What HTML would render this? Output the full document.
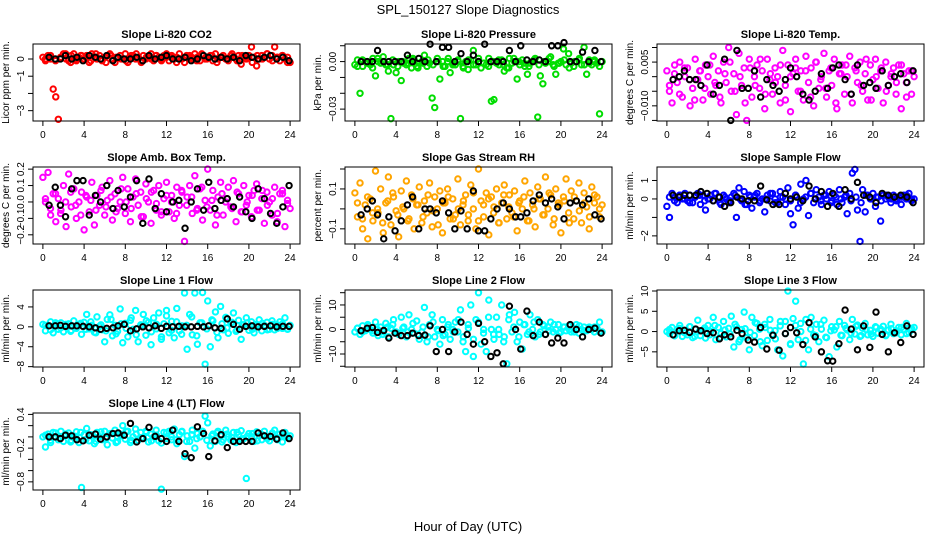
<!DOCTYPE html>
<html><head><meta charset="utf-8"><style>
html,body{margin:0;padding:0;background:#fff;}
svg{display:block;font-family:"Liberation Sans",sans-serif;}
</style></head><body>
<svg id="chart" width="936" height="540" viewBox="0 0 936 540" xmlns="http://www.w3.org/2000/svg">
<rect width="936" height="540" fill="#fff"/>
<text x="468" y="14" text-anchor="middle" font-size="13">SPL_150127  Slope Diagnostics</text>
<text x="468" y="531" text-anchor="middle" font-size="13">Hour of Day (UTC)</text>
</svg>
<script>
const xTicks = [0,4,8,12,16,20,24];
const blackHours = [0.6,1.2,1.7,2.2,2.8,3.3,3.9,4.5,5.1,5.6,6.2,6.8,7.3,7.9,8.5,9.1,9.7,10.3,10.9,11.5,12.0,12.6,13.2,13.8,14.4,15.0,15.6,16.1,16.7,17.3,17.9,18.5,19.1,19.7,20.3,20.9,21.5,22.1,22.7,23.3,23.9];

const co2Vals = [0.1,-0.1,0.2,0.0,-1.75,-2.2,-3.5,0.1,0.3,0.0,-0.1,0.2,0.3,-0.1,0.1,0.2,0.0,0.2,-0.2,0.3,0.1,0.0,0.2,-0.1,0.1,0.2,0.3,0.0,-0.2,0.1,0.2,0.0,0.3,-0.2,0.1,0.2,0.0,0.1,-0.1,0.2,0.0,0.1,0.3,-0.1,0.2,0.1,0.0,0.2,0.1,-0.1,0.2,0.0,0.1,0.3,0.0,-0.2,0.1,0.2,0.0,0.3,0.1,-0.1,0.2,0.0,0.1,0.2,-0.1,0.3,0.0,0.1,0.2,0.0,-0.1,0.2,0.1,0.0,0.2,-0.3,0.1,0.0,0.2,0.7,0.1,-0.4,0.0,0.2,0.1,0.3,0.0,0.2,0.7,0.1,-0.1,0.2,0.0,0.1,-0.2];
const co2Band = [0.0,0.2,-0.1,0.1,0.3,-0.2,0.0,0.2,0.1,-0.1,0.3,0.0,-0.2,0.2,0.1,0.0,-0.1,0.2,0.3,-0.2,0.1,0.0,0.2,-0.1,0.3,0.1,-0.2,0.0,0.2,0.1,-0.1,0.3,0.0,0.2,-0.2,0.1,0.0,0.3,-0.1,0.2,0.1,-0.2,0.2,0.0,0.3,-0.1,0.1,0.2,-0.2];
const co2Black = [0.1,0.0,0.0,0.2,0.0,0.1,-0.1,0.2,0.1,0.0,0.2,-0.1,0.1,0.0,0.0,0.1,-0.1,0.2,0.0,0.1,0.2,0.0,0.0,0.1,-0.1,0.0,0.2,0.1,0.0,0.1,0.0,0.1,-0.1,0.2,0.1,0.0,0.1,0.2,0.0,0.1,-0.1];
const presVals = [-0.002,0.001,-0.02,-0.003,0.0,-0.001,-0.002,0.002,-0.009,0.0,-0.001,0.003,-0.002,-0.006,-0.036,-0.002,-0.007,0.0,-0.012,-0.001,-0.002,0.002,-0.004,0.001,-0.003,-0.001,0.0,0.004,-0.003,-0.001,-0.023,-0.029,0.002,-0.011,0.0,-0.003,0.0,-0.007,-0.002,-0.002,0.001,-0.036,-0.003,0.0,-0.005,0.001,0.007,-0.002,0.0,-0.004,-0.001,-0.002,0.002,-0.025,-0.024,-0.001,-0.002,0.001,-0.006,-0.004,0.002,-0.001,0.0,-0.011,-0.002,0.001,-0.003,-0.008,-0.001,0.0,0.002,-0.035,-0.009,-0.014,-0.001,0.0,0.003,-0.002,-0.008,-0.001,0.0,0.008,-0.002,0.005,-0.001,-0.003,0.0,0.001,-0.002,0.009,-0.008,0.001,-0.002,0.0,-0.001,-0.033,0.0];
const presBand = [-0.003,0.001,-0.001,-0.004,0.002,0.0,-0.002,0.001,-0.003,0.0,-0.001,0.002,-0.004,-0.001,0.001,-0.002,0.0,-0.003,0.002,-0.001,0.0,-0.004,0.001,-0.002,0.002,-0.001,-0.003,0.0,0.001,-0.002,-0.004,0.002,0.0,-0.001,-0.003,0.001,-0.002,0.0,0.002,-0.003,-0.001,0.001,-0.004,0.0,0.002,-0.002,-0.001,0.001,-0.003];
const presBlack = [0.0,0.0,0.0,0.007,0.0,0.0,0.0,0.0,0.004,0.0,0.002,0.0,0.011,0.0,0.009,0.009,0.0,0.005,0.0,0.004,0.0,0.011,0.0,0.0,0.0,0.007,0.0,0.01,0.001,0.0,0.001,0.0,0.01,0.01,0.012,0.0,0.0,0.006,0.0,0.007,0.0];
const tempVals = [0.002,-0.005,-0.009,0.004,-0.002,0.005,-0.007,0.0,0.003,-0.01,-0.004,0.006,-0.001,0.002,-0.008,0.004,0.0,-0.006,0.007,-0.003,0.002,-0.009,0.005,-0.002,0.01,-0.005,0.001,-0.013,0.008,-0.003,0.003,-0.015,0.006,-0.007,0.0,0.004,-0.004,0.002,-0.011,0.006,-0.001,-0.006,0.003,0.0,-0.009,0.009,-0.003,0.004,-0.012,0.001,0.006,-0.005,0.002,-0.008,0.007,-0.002,0.003,-0.01,0.005,-0.004,0.0,0.008,-0.007,0.002,-0.003,0.006,-0.011,0.001,0.004,-0.006,0.0,0.007,-0.009,0.003,-0.002,0.005,-0.005,0.001,-0.008,0.004,-0.001,0.006,-0.004,0.002,-0.009,0.005,-0.003,0.0,0.003,-0.006,0.004,-0.011,0.001,-0.002,0.002,-0.006,0.0];
const tempBand = [-0.003,0.001,-0.006,0.003,-0.001,-0.008,0.002,-0.004,0.004,-0.002,-0.007,0.001,0.005,-0.005,0.0,-0.009,0.003,-0.003,0.006,-0.006,0.001,-0.002,0.004,-0.008,0.0,0.003,-0.005,0.002,-0.007,0.005,-0.001,-0.004,0.003,-0.009,0.001,0.004,-0.006,0.002,-0.003,0.006,-0.008,0.0,0.003,-0.005,0.001,-0.002,0.004,-0.007,0.002];
const tempBlack = [-0.001,0.0,0.002,-0.001,-0.001,-0.003,0.004,-0.006,-0.003,0.006,-0.015,0.009,-0.004,-0.004,0.002,-0.007,-0.001,-0.003,-0.005,-0.001,0.003,0.0,-0.006,-0.008,-0.005,0.001,-0.004,0.003,0.004,-0.001,-0.006,0.004,-0.003,-0.002,-0.004,0.002,-0.003,0.0,0.001,-0.002,0.002];
const ambVals = [0.15,0.0,0.18,-0.08,0.05,-0.12,0.02,-0.05,0.1,-0.15,0.17,-0.03,0.08,-0.1,0.0,0.06,-0.17,0.03,-0.06,0.12,-0.14,0.04,-0.02,0.09,-0.08,0.01,0.13,-0.11,0.05,-0.04,0.0,0.15,-0.07,0.08,-0.12,0.03,0.14,-0.02,0.06,-0.09,0.11,0.0,-0.13,0.07,-0.05,0.1,-0.08,0.02,0.12,-0.06,0.04,-0.1,0.09,-0.02,0.06,-0.24,0.03,0.1,-0.07,0.16,-0.04,0.08,-0.11,0.01,0.2,-0.05,0.07,-0.14,0.03,0.12,-0.08,0.0,0.09,-0.03,0.13,-0.12,0.05,-0.06,0.1,-0.02,0.04,-0.09,0.07,0.11,-0.05,0.02,-0.13,0.06,0.0,-0.08,0.09,-0.12,0.05,0.07,-0.15,0.01,-0.04];
const ambBand = [0.02,-0.04,0.05,-0.07,0.0,0.06,-0.02,-0.08,0.04,0.01,-0.05,0.07,-0.03,0.03,-0.06,0.08,0.0,-0.04,0.05,-0.09,0.02,0.06,-0.01,-0.06,0.04,0.0,-0.07,0.07,-0.02,0.03,-0.05,0.09,-0.03,0.01,-0.08,0.05,0.02,-0.04,0.06,-0.06,0.0,0.04,-0.05,0.07,-0.02,0.02,-0.07,0.05,-0.01];
const ambBlack = [-0.02,0.09,-0.02,-0.09,0.08,0.13,0.13,-0.08,0.04,0.0,0.1,-0.04,0.07,-0.03,0.03,0.13,-0.13,0.14,-0.04,0.05,-0.06,0.0,0.01,-0.16,0.0,0.08,-0.05,0.12,-0.04,0.01,0.02,-0.03,0.03,-0.06,-0.1,0.08,0.02,-0.07,-0.13,-0.03,0.1];
const rhVals = [0.08,-0.04,0.13,-0.1,0.02,-0.15,0.05,-0.06,0.19,-0.02,0.1,-0.12,0.03,0.16,-0.08,0.06,-0.01,-0.14,0.09,0.0,0.14,-0.05,0.07,-0.1,0.02,0.11,-0.07,0.04,-0.02,0.13,-0.09,0.06,0.0,0.09,-0.12,0.03,0.1,-0.05,0.05,-0.03,0.15,-0.08,0.02,0.07,-0.06,0.12,0.0,-0.1,0.2,0.04,-0.04,0.08,-0.13,0.06,0.01,0.1,-0.07,0.03,0.12,-0.05,0.07,-0.02,0.09,-0.11,0.04,0.0,0.14,-0.06,0.08,0.02,-0.09,0.11,0.05,-0.03,0.16,0.0,0.07,-0.08,0.1,0.03,-0.12,0.06,0.15,-0.02,0.09,-0.05,0.04,0.13,-0.07,0.08,0.01,-0.1,0.11,0.03,0.06,-0.04,0.02];
const rhBand = [0.03,-0.05,0.06,-0.02,0.0,-0.07,0.04,0.08,-0.03,0.01,-0.06,0.05,0.02,-0.04,0.07,-0.01,-0.08,0.03,0.06,-0.05,0.0,0.04,-0.03,0.08,-0.06,0.02,0.05,-0.02,-0.07,0.07,0.01,-0.04,0.03,0.06,-0.06,0.0,0.05,-0.03,0.08,-0.05,0.02,0.04,-0.07,0.06,-0.01,0.03,-0.04,0.07,0.0];
const rhBlack = [-0.03,0.0,0.04,-0.03,-0.15,-0.04,-0.11,-0.06,0.02,0.06,-0.1,0.0,0.0,-0.02,0.04,-0.02,-0.1,-0.01,-0.1,0.09,-0.11,-0.11,-0.05,0.0,0.03,0.0,-0.04,-0.04,-0.02,0.04,0.07,0.03,0.05,0.01,-0.05,0.03,0.04,0.02,0.05,-0.03,-0.05];
const sfVals = [-0.4,-1.0,0.3,0.1,-0.2,0.2,0.0,0.3,-0.1,0.2,-0.2,0.1,0.3,-0.3,0.2,-0.6,0.0,0.2,-0.1,0.3,0.1,-0.3,0.2,0.0,-0.2,0.1,0.3,-1.0,0.6,-0.1,0.4,-0.3,0.2,-0.5,0.1,0.3,-0.2,0.0,-0.7,0.2,-0.1,0.3,0.0,-0.2,0.4,0.1,-0.3,0.6,-0.8,-1.4,0.2,-0.5,0.8,0.0,1.0,-0.9,0.3,-0.2,0.5,0.1,-0.3,0.2,0.0,0.4,-0.1,0.2,-0.3,0.5,-0.2,0.1,-0.8,0.3,1.4,1.6,-0.6,-2.3,0.5,-0.7,0.2,0.0,0.3,-0.4,0.1,-1.2,0.2,0.0,0.1,-0.2,0.2,0.0,0.1,-0.3,0.2,0.0,0.3,-0.1,0.0];
const sfBand = [0.1,-0.1,0.2,0.0,-0.2,0.1,0.2,-0.1,0.0,0.3,-0.2,0.1,-0.1,0.2,0.0,-0.3,0.1,0.2,-0.1,0.0,0.3,-0.2,0.1,0.0,-0.1,0.2,-0.2,0.1,0.3,0.0,-0.1,0.2,-0.2,0.1,0.0,0.2,-0.1,0.1,-0.2,0.2,0.0,0.1,-0.1,0.2,0.0,-0.1,0.1,0.2,0.0];
const sfBlack = [0.2,0.1,0.2,0.2,0.2,0.4,0.3,-0.1,0.1,-0.4,-0.2,0.1,0.0,-0.1,-0.1,0.7,-0.05,-0.3,-0.3,0.3,0.0,0.1,-0.1,0.7,0.0,0.4,-0.4,0.3,-0.4,0.5,0.0,0.9,0.2,0.1,-0.2,0.3,0.2,0.1,0.2,0.1,-0.2];
const l1Vals = [0.5,-0.8,0.3,1.0,-1.2,0.4,-0.5,0.8,-1.0,0.2,0.6,-0.7,1.2,-0.3,0.5,-1.5,0.9,2.5,-0.4,0.3,-1.1,2.0,0.1,-0.6,-3.0,1.5,2.4,-1.8,0.3,-0.9,3.6,-3.2,0.7,-2.0,1.3,-0.5,3.3,-3.0,0.4,2.5,-1.7,0.9,-3.6,1.8,-0.4,2.8,-2.5,0.6,3.3,-1.2,1.1,-2.2,3.7,-0.8,0.2,6.8,-4.5,2.5,-1.6,6.8,-3.5,0.8,6.9,-7.5,5.2,-4.0,1.2,3.0,-2.2,4.1,-0.6,1.9,-1.3,0.7,2.8,-0.9,1.3,-2.5,0.4,1.8,-0.7,1.0,-1.2,0.5,1.4,-0.8,0.3,0.9,-0.5,1.2,-0.6,0.4,1.0,-0.3,1.8,-0.5,0.3];
const l1Band = [0.3,-0.6,0.8,-0.2,0.5,-0.9,0.1,0.7,-0.5,1.0,-1.2,0.4,-0.8,1.5,-1.4,0.6,-0.3,1.8,-1.6,0.2,1.2,-1.0,0.5,-2.0,2.2,-0.7,1.0,-1.5,0.3,2.0,-1.8,0.8,-0.4,1.4,-1.1,0.6,-0.2,0.9,-0.7,0.4,0.8,-0.5,0.2,0.7,-0.6,0.5,-0.3,0.6,-0.4];
const l1Black = [0.2,0.2,0.3,0.1,0.2,0.2,0.1,0.0,-0.2,-0.5,-0.3,-0.2,0.2,0.5,-0.8,-0.4,0.0,-0.2,0.2,-0.3,0.1,0.0,0.1,0.0,0.0,0.1,0.0,0.2,-0.2,-0.3,1.6,0.5,-0.5,0.1,0.2,0.0,0.1,0.2,0.0,0.1,0.1];
const l2Vals = [-1,0.5,-2,1.5,-0.5,2,0,-1.5,3,-2.5,1,-1,2.5,-3,0.5,4,-1,-2,5,1,-3,6,0,-1.5,3.5,-4,-1,9,-5,2,6,-3,0,-6,4,-2,1,-4,0,3,-1,8,-5,-9,2,10,-11,4,15,-6,0,-9,12,0,-4,5,-2,10,-3,-14,6,-1,7,-5,3,-8,2,-2,6,0,-3,4,-1,2,-2,1,3,-1,0,2,-1,1,-0.5,1.5,-1,0.5,2,-1.5,0,1,-0.5,1,0,-1,0.5,3,-1];
const l2Band = [0.5,-1,1.5,-0.5,0,-2,1,2,-1.5,0.5,-1,2.5,-2,1,-3,3,-0.5,-2.5,2,-1,4,-3,0.5,-4,3,-1.5,5,-2,0,-5,4,1,-3,2,-1,3,-2,1.5,-0.5,2,-1.5,1,0,-1,1.5,-0.5,0.5,1,-1];
const l2Black = [-0.5,0.5,0.8,-1.2,-0.4,-3.5,-1.5,-2.5,-2.5,-1.5,-2.5,-2.3,1.5,-9,0,-9,-1,3,-2,-6,2.5,-5,-11,-9.5,-14,9.5,0,-8,7.5,-2.5,3,-2,-5.5,-3.5,-5.5,2,0,-3,0,0.5,-1.5];
const l3Vals = [0,-0.5,1,-1,0.5,1.5,-1.2,0.3,-0.8,1.2,-1.5,0.6,2.8,-1,0.4,-1.6,1.5,0,3.5,-2,1,-0.5,2.5,-1.3,0.8,3.8,-3.8,1.2,-2.5,0.5,4.8,-1.5,-4.5,3.5,-1,2,0.6,-3.5,1.8,-2.2,3,-0.7,0.2,-4.5,1.4,-6,2.5,10,-3.2,3.2,7.5,-2,0,-8,3,-4.5,3.5,-0.8,1.8,-2.5,0.6,2.8,-1.5,-6.2,1.2,0.4,-3.8,2.5,-1,1.5,0.4,-2,3,-0.6,1.6,-1.2,0.8,2,-0.8,0.3,-1.2,1.2,-0.4,0.6,1.3,-1,0.4,1.8,-0.5,0.2,1,-0.8,0.5,2,-0.3,0.8,1];
const l3Band = [0.5,-1,0.8,-0.3,1.2,-1.2,0.2,0.9,-0.8,1.5,-1.5,0.4,-0.6,1.8,-2,0.7,-0.2,2.2,-2.5,1,0.3,-1.8,2.5,-0.5,-3,1.5,2,-2.2,0.6,-1,1.8,-1.4,0.2,1.2,-0.9,0.8,-0.4,1.3,-1,0.5,-0.6,1,0.2,-0.8,0.7,-0.3,1,-0.5,0.4];
const l3Black = [-0.8,0.2,0.3,-0.2,0.6,0.2,-0.5,-0.3,-1.8,-0.8,-1.3,0.3,-0.5,-2.1,-2.6,1,-4.3,-0.9,-4.6,-0.5,1,-0.3,-3.2,2.2,-1.3,-5,-7.2,-7.3,-3,5.3,0.6,-4.5,1.4,-3.9,4.8,-0.7,-5,-0.3,-2.7,1.4,-0.7];
const l4Vals = [0.0,-0.18,0.05,-0.1,0.08,0.0,-0.05,0.1,-0.08,0.03,0.07,-0.06,0.0,0.09,-0.1,-0.9,0.04,0.15,-0.07,0.02,-0.12,0.08,0.0,-0.05,0.1,-0.14,0.06,-0.02,0.12,-0.08,0.05,0.2,-0.04,0.1,-0.1,0.0,0.14,-0.06,0.08,-0.02,0.1,-0.09,0.05,0.0,0.12,-0.07,-0.93,0.08,-0.03,0.1,-0.05,0.14,-0.12,0.04,0.1,-0.35,0.02,-0.08,0.12,-0.2,0.06,0.0,0.1,0.37,0.25,-0.16,0.05,-0.08,0.1,0.02,-0.05,0.12,0.0,-0.06,0.08,-0.1,0.04,0.11,-0.03,-0.74,0.06,0.0,-0.08,0.09,0.02,-0.05,0.1,0.0,-0.07,0.06,0.12,-0.02,0.05,-0.09,0.08,0.0,0.02];
const l4Band = [0.03,-0.06,0.07,-0.02,0.05,-0.09,0.01,0.08,-0.05,0.04,-0.08,0.09,-0.03,0.06,-0.1,0.02,0.1,-0.06,0.05,-0.02,0.08,-0.07,0.03,-0.11,0.07,0.0,-0.05,0.09,-0.08,0.04,-0.03,0.1,-0.06,0.02,0.07,-0.09,0.05,-0.02,0.08,-0.05,0.01,0.06,-0.07,0.04,-0.03,0.07,-0.05,0.03,-0.01];
const l4Black = [0.0,0.0,-0.03,0.03,0.02,-0.05,-0.07,0.03,0.05,-0.04,0.0,0.06,0.07,0.03,0.24,-0.09,-0.03,0.17,0.01,-0.03,-0.08,0.12,-0.08,-0.3,-0.37,0.18,0.06,-0.35,-0.07,0.04,-0.19,-0.08,-0.08,-0.08,-0.08,0.07,0.02,0.01,-0.04,0.07,-0.03];

const panels = [
 {name:'co2',title:'Slope Li-820 CO2',ylab:'Licor ppm per min.',col:0,row:0,ymin:-3.6,ymax:0.87,ticks:[0,-1,-2,-3],labels:['0','-1','','-3'],color:'#ff0000',vals:co2Vals,band:co2Band,blk:co2Black},
 {name:'pressure',title:'Slope Li-820 Pressure',ylab:'kPa per min.',col:1,row:0,ymin:-0.0375,ymax:0.0111,ticks:[0.01,0,-0.01,-0.02,-0.03],labels:['','0.00','','','-0.03'],color:'#00dd00',vals:presVals,band:presBand,blk:presBlack},
 {name:'temp',title:'Slope Li-820 Temp.',ylab:'degrees C per min.',col:2,row:0,ymin:-0.0152,ymax:0.0112,ticks:[0.01,0.005,0,-0.005,-0.01,-0.015],labels:['','0.005','','','-0.010',''],color:'#ff00ff',vals:tempVals,band:tempBand,blk:tempBlack},
 {name:'amb-temp',title:'Slope Amb. Box Temp.',ylab:'degrees C per min.',col:0,row:1,ymin:-0.256,ymax:0.213,ticks:[0.2,0.1,0,-0.1,-0.2],labels:['0.2','0.1','0.0','-0.1','-0.2'],color:'#ff00ff',vals:ambVals,band:ambBand,blk:ambBlack},
 {name:'rh',title:'Slope Gas Stream RH',ylab:'percent per min.',col:1,row:1,ymin:-0.176,ymax:0.21,ticks:[0.2,0.1,0,-0.1],labels:['','0.1','','-0.1'],color:'#ffa500',vals:rhVals,band:rhBand,blk:rhBlack},
 {name:'sample-flow',title:'Slope Sample Flow',ylab:'ml/min per min.',col:2,row:1,ymin:-2.44,ymax:1.73,ticks:[1,0,-1,-2],labels:['1','0','','-2'],color:'#0000ff',vals:sfVals,band:sfBand,blk:sfBlack},
 {name:'line1',title:'Slope Line 1 Flow',ylab:'ml/min per min.',col:0,row:2,ymin:-8.07,ymax:7.4,ticks:[4,0,-4,-8],labels:['4','0','-4','-8'],color:'#00ffff',vals:l1Vals,band:l1Band,blk:l1Black},
 {name:'line2',title:'Slope Line 2 Flow',ylab:'ml/min per min.',col:1,row:2,ymin:-15.3,ymax:16.1,ticks:[15,10,5,0,-5,-10,-15],labels:['','10','','0','','-10',''],color:'#00ffff',vals:l2Vals,band:l2Band,blk:l2Black},
 {name:'line3',title:'Slope Line 3 Flow',ylab:'ml/min per min.',col:2,row:2,ymin:-8.74,ymax:10.25,ticks:[10,5,0,-5],labels:['10','5','0','-5'],color:'#00ffff',vals:l3Vals,band:l3Band,blk:l3Black},
 {name:'line4',title:'Slope Line 4 (LT) Flow',ylab:'ml/min per min.',col:0,row:3,ymin:-0.945,ymax:0.425,ticks:[0.4,0.2,0,-0.2,-0.4,-0.6,-0.8],labels:['0.4','','','-0.2','','','-0.8'],color:'#00ffff',vals:l4Vals,band:l4Band,blk:l4Black}
];

const svg = document.getElementById('chart');
const NS = 'http://www.w3.org/2000/svg';
const colL = [33,345,657], rowT = [44,167,290,413], W = 267, H = 77;
function mk(tag, attrs, parent){
  const e = document.createElementNS(NS, tag);
  for (const k in attrs) e.setAttribute(k, attrs[k]);
  parent.appendChild(e); return e;
}
panels.forEach(p => {
  const L = colL[p.col], T = rowT[p.row];
  const xs = x => L + (x + 0.96) / 25.92 * W;
  const ys = y => T + (p.ymax - y) / (p.ymax - p.ymin) * H;
  const g = mk('g', {}, svg);
  
  
  const t = mk('text', {x: L + W/2, y: T - 6, 'text-anchor':'middle', 'font-size':11, 'font-weight':'bold'}, g);
  t.textContent = p.title;
  
  
  const pts = mk('g', {fill:'none', stroke:p.color, 'stroke-width':2}, g);
  
  
  const nb = p.band.length;
  p.band.forEach((v, i) => {
    const c = mk('circle', {cx: xs(0.25 + i * 23.5 / (nb - 1)), cy: ys(v), r: 2.7}, pts);
    
    
  });
  const n = p.vals.length;
  p.vals.forEach((v, i) => {
    const c = mk('circle', {cx: xs(i * 24 / (n - 1)), cy: ys(v), r: 2.7}, pts);
    
    
  });
  const bpts = mk('g', {fill:'none', stroke:'#000', 'stroke-width':2}, g);
  
  
  p.blk.forEach((v, i) => {
    const c = mk('circle', {cx: xs(blackHours[i]), cy: ys(v), r: 2.7}, bpts);
    
    
  });
  const box = mk('rect', {x: L, y: T, width: W, height: H, fill:'none', stroke:'#000', 'stroke-width':1}, g);
  
  
  const xa = mk('g', {}, g);
  
  
  xTicks.forEach(tv => {
    const X = xs(tv);
    mk('line', {x1:X, x2:X, y1:T+H, y2:T+H+5, stroke:'#000'}, xa);
    const tl = mk('text', {x:X, y:T+H+17, 'text-anchor':'middle', 'font-size':10}, xa);
    tl.textContent = tv;
  });
  const ya = mk('g', {}, g);
  
  
  p.ticks.forEach((tv, i) => {
    const Y = ys(tv);
    mk('line', {x1:L-5, x2:L, y1:Y, y2:Y, stroke:'#000'}, ya);
    if (p.labels[i]) {
      const tl = mk('text', {x:L-9, y:Y, 'text-anchor':'middle', 'font-size':10, transform:`rotate(-90 ${L-9} ${Y})`}, ya);
      tl.textContent = p.labels[i].replace('-', '\u2212');
    }
  });
  const yl = mk('text', {x:L-24, y:T+H/2, 'text-anchor':'middle', 'font-size':10, transform:`rotate(-90 ${L-24} ${T+H/2})`}, g);
  yl.textContent = p.ylab;
  
  
});
</script>
</body></html>
